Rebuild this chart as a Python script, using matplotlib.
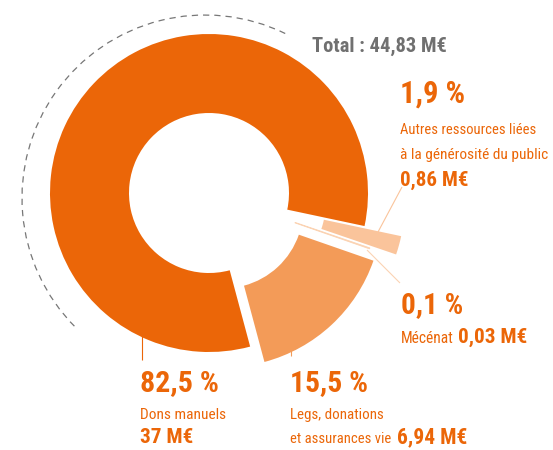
import matplotlib
matplotlib.use("Agg")
import matplotlib.pyplot as plt
from matplotlib import font_manager as fm
from matplotlib.patches import Arc

# ---- data ----
categories = ["Dons manuels", "Legs, donations et assurances vie", "Mécénat",
              "Autres ressources liées à la générosité du public"]
shares = [82.5, 15.5, 0.1, 1.9]
amounts = ["37 M€", "6,94 M€", "0,03 M€", "0,86 M€"]
pct_labels = ["82,5 %", "15,5 %", "0,1 %", "1,9 %"]
total_label = "Total : 44,83 M€"

colors = ["#EB6608", "#F39B58", "#FBD3B3", "#FAC49B"]
ORANGE = "#EB6608"
GREY = "#707070"

W, H = 553, 450


def pick_family():
    for name in ["Liberation Sans Narrow", "Roboto Condensed", "Open Sans Condensed"]:
        try:
            fm.findfont(fm.FontProperties(family=name), fallback_to_default=False)
            return name, "normal"
        except Exception:
            pass
    return "DejaVu Sans", "condensed"


FAMILY, STRETCH = pick_family()

fig = plt.figure(figsize=(W / 100, H / 100), dpi=100)
ax = fig.add_axes([0, 0, 1, 1])
ax.set_xlim(0, W)
ax.set_ylim(0, H)
ax.axis("off")

cx, cy, R = 209, H - 193, 159
ax.pie(shares, colors=colors, startangle=-12, counterclock=True, radius=R,
       center=(cx, cy), explode=[0, 21, 11, 38],
       wedgeprops=dict(width=79, linewidth=0.6, edgecolor="none"))
# give the tiny slice a visible outline in its own colour
for w, c in zip(ax.patches, colors):
    w.set_edgecolor(c if c == colors[2] else "none")
ax.set_xlim(0, W)
ax.set_ylim(0, H)
ax.set_aspect("auto")

# dashed arc
ax.add_patch(Arc((205, H - 198), 366, 366, theta1=64, theta2=225,
                 color="#777777", lw=0.9, ls=(0, (5, 4))))

# leader lines
def seg(x1, y1, x2, y2, c, lw=0.8):
    ax.plot([x1, x2], [H - y1, H - y2], color=c, lw=lw, solid_capstyle="butt")

seg(402, 187, 378, 232, "#FAC49B")
seg(367, 250, 400, 283, "#FBD3B3")
seg(291, 340, 291, 356, "#F39B58")
seg(142, 330, 142, 360, ORANGE)

renderer = fig.canvas.get_renderer()


def fit_text(x, baseline, s, width, size, bold=False, color=ORANGE):
    t = ax.text(x, H - baseline, s, ha="left", va="baseline", fontsize=size,
                family=FAMILY, fontstretch=STRETCH,
                fontweight="bold" if bold else "normal", color=color)
    w = t.get_window_extent(renderer).width
    if w > 0:
        t.set_fontsize(size * width / w)
    return t


fit_text(312, 52, total_label, 135, 15, bold=True, color=GREY)

fit_text(400, 102.5, pct_labels[3], 65, 20, bold=True)
fit_text(400, 134, "Autres ressources liées", 135, 13)
fit_text(400, 159, "à la générosité du public", 148, 13)
fit_text(400, 185.5, amounts[3], 68, 13, bold=True)

fit_text(401, 313, pct_labels[2], 62, 20, bold=True)
fit_text(401, 343, categories[2], 53, 13)
fit_text(458, 343, amounts[2], 69, 13, bold=True)

fit_text(140, 390.7, pct_labels[0], 79, 20, bold=True)
fit_text(140, 419, categories[0], 86, 13)
fit_text(140, 443, amounts[0], 53, 13, bold=True)

fit_text(290, 390.7, pct_labels[1], 78, 20, bold=True)
fit_text(290, 419, "Legs, donations", 93, 13)
fit_text(290, 443, "et assurances vie", 100, 13)
fit_text(397, 443, amounts[1], 70, 13, bold=True)

fig.savefig("out.png", dpi=100)
